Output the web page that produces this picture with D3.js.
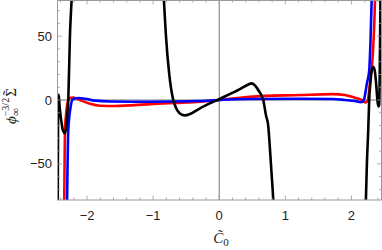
<!DOCTYPE html>
<html>
<head>
<meta charset="utf-8">
<script src="https://cdn.jsdelivr.net/npm/d3@7"></script>
<style>
  body { margin: 0; background: #fff; }
  svg text { font-family: "Liberation Sans", Arial, sans-serif; }
</style>
</head>
<body>
<svg id="chart" width="382" height="250"></svg>
<script>
// values, [C0, value]
const blackLeft = [
  [-2.447, -150], [-2.442, -60], [-2.438, -10], [-2.434, 4], [-2.428, 3],
  [-2.41, -8], [-2.385, -18], [-2.365, -24], [-2.335, -26], [-2.312, -20],
  [-2.296, -10], [-2.284, 0], [-2.271, 25], [-2.259, 50], [-2.244, 68],
  [-2.228, 85], [-2.213, 110]
];
const blackMid = [
  [-0.89, 125], [-0.862, 100], [-0.837, 78], [-0.806, 50], [-0.756, 20],
  [-0.696, 0], [-0.655, -6], [-0.595, -10.5], [-0.519, -12], [-0.443, -11],
  [-0.292, -6.5], [0, 0.7], [0.313, 8.5], [0.434, 12], [0.49, 13],
  [0.54, 11.5], [0.59, 7.8], [0.666, 0], [0.707, -12], [0.741, -20],
  [0.767, -38], [0.795, -60], [0.817, -78], [0.835, -100]
];
const blackRight = [
  [2.204, -100], [2.219, -78], [2.234, -50], [2.254, -24], [2.269, 0],
  [2.288, 14], [2.303, 22], [2.33, 26], [2.356, 22], [2.378, 10],
  [2.393, 0], [2.408, -5], [2.42, -4], [2.428, 20], [2.436, 60], [2.443, 110]
];
const redCurve = [
  [-2.349, -110], [-2.345, -78], [-2.339, -45], [-2.334, -23.5], [-2.319, -12],
  [-2.304, -5], [-2.284, 0], [-2.259, 1.5], [-2.209, 2], [-2.108, 0],
  [-1.956, -3], [-1.804, -4.5], [-1.577, -4.7], [-1.048, -3.2], [-0.292, -1.3],
  [0, 0], [0.464, 2.6], [1.221, 3.9], [1.72, 4.6], [1.9, 3.9],
  [2.051, 1.8], [2.157, 0], [2.217, -2], [2.248, 0], [2.272, 9],
  [2.287, 17], [2.306, 24], [2.333, 45], [2.356, 78], [2.367, 110]
];
const blueCurve = [
  [-2.307, -110], [-2.302, -78], [-2.293, -45], [-2.284, -23.5], [-2.266, -12],
  [-2.247, -5], [-2.224, 0], [-2.183, 1.2], [-2.133, 1.6], [-2.032, 1],
  [-1.88, -0.5], [-1.653, -1.2], [-1.048, -1.4], [-0.292, -0.8], [0, 0],
  [0.464, 0.8], [1.221, 1], [1.72, 0.8], [1.9, 0], [2.051, -0.8],
  [2.144, -1.8], [2.189, 0], [2.212, 6], [2.234, 13], [2.269, 23],
  [2.288, 45], [2.306, 78], [2.316, 105]
];
const xTickValues = [-2, -1, 0, 1, 2];
const yTickValues = [-50, 0, 50];

const svg = d3.select("#chart");
const plotL = 57.5, plotR = 381.5, plotT = 0, plotB = 200;

const x = d3.scaleLinear().domain([-2.447, 2.455]).range([plotL, plotR]);
const y = d3.scaleLinear().domain([-78.3, 78.3]).range([plotB, plotT]);

const frameColor = "#999";

// zero lines
svg.append("line")
  .attr("x1", plotL).attr("x2", plotR)
  .attr("y1", y(0)).attr("y2", y(0))
  .attr("stroke", "#777").attr("stroke-width", 1);
svg.append("line")
  .attr("x1", x(0)).attr("x2", x(0))
  .attr("y1", plotT).attr("y2", plotB)
  .attr("stroke", "#777").attr("stroke-width", 1);

// curves
svg.append("clipPath").attr("id", "clip")
  .append("rect")
  .attr("x", plotL).attr("y", plotT)
  .attr("width", plotR - plotL).attr("height", plotB - plotT);

const line = d3.line()
  .x(d => x(d[0]))
  .y(d => y(d[1]))
  .curve(d3.curveMonotoneX);

const curves = svg.append("g").attr("clip-path", "url(#clip)");
[
  { pts: redCurve, color: "#ff0000" },
  { pts: blueCurve, color: "#0000ff" },
  { pts: blackLeft, color: "#000" },
  { pts: blackMid, color: "#000" },
  { pts: blackRight, color: "#000" }
].forEach(c => {
  curves.append("path")
    .attr("d", line(c.pts))
    .attr("fill", "none")
    .attr("stroke", c.color)
    .attr("stroke-width", 2.6)
    .attr("stroke-linejoin", "round");
});

// frame
svg.append("rect")
  .attr("x", plotL).attr("y", plotT + 0.5)
  .attr("width", plotR - plotL).attr("height", plotB - plotT - 0.5)
  .attr("fill", "none")
  .attr("stroke", frameColor).attr("stroke-width", 1);

// ticks on all four sides, pointing inward
const ticks = svg.append("g").attr("stroke", frameColor).attr("stroke-width", 0.8);
x.ticks(25).forEach(v => {
  const len = xTickValues.includes(Math.round(v * 10) / 10) ? 4.5 : 2.5;
  ticks.append("line").attr("x1", x(v)).attr("x2", x(v)).attr("y1", plotB).attr("y2", plotB - len);
  ticks.append("line").attr("x1", x(v)).attr("x2", x(v)).attr("y1", plotT).attr("y2", plotT + len);
});
y.ticks(16).forEach(v => {
  const len = yTickValues.includes(v) ? 4.5 : 2.5;
  ticks.append("line").attr("x1", plotL).attr("x2", plotL + len).attr("y1", y(v)).attr("y2", y(v));
  ticks.append("line").attr("x1", plotR).attr("x2", plotR - len).attr("y1", y(v)).attr("y2", y(v));
});

const fmt = v => v < 0 ? "\u2212" + Math.abs(v) : String(v);

svg.append("g").selectAll("text")
  .data(xTickValues).join("text")
  .attr("x", d => x(d))
  .attr("y", 220)
  .attr("text-anchor", "middle")
  .attr("font-size", 13)
  .attr("fill", "#222")
  .text(fmt);

svg.append("g").selectAll("text")
  .data(yTickValues).join("text")
  .attr("x", 52)
  .attr("y", d => y(d) + 4.5)
  .attr("text-anchor", "end")
  .attr("font-size", 13)
  .attr("fill", "#222")
  .text(fmt);

// axis labels
const xl = svg.append("text")
  .attr("x", 221).attr("y", 243)
  .attr("text-anchor", "middle")
  .style("font-family", "'Liberation Serif', serif")
  .attr("font-size", 15)
  .attr("fill", "#222");
xl.append("tspan").attr("font-style", "italic").text("C\u0303");
xl.append("tspan").attr("font-size", 11).attr("dy", 3).text("0");

const yl = svg.append("text")
  .attr("transform", "translate(16,106) rotate(-90)")
  .attr("text-anchor", "middle")
  .style("font-family", "'Liberation Serif', serif")
  .attr("font-size", 15)
  .attr("fill", "#222");
yl.append("tspan").attr("font-style", "italic").text("\u03d5");
yl.append("tspan").attr("font-size", 11).attr("dy", 3).text("\u221e");
yl.append("tspan").attr("font-size", 10).attr("dx", -8).attr("dy", -10).text("\u22123/2");
yl.append("tspan").attr("dx", 1).attr("dy", 7).text("\u03a3");
yl.append("tspan").attr("dx", -7).attr("dy", -3).text("\u02dc");
</script>
</body>
</html>
